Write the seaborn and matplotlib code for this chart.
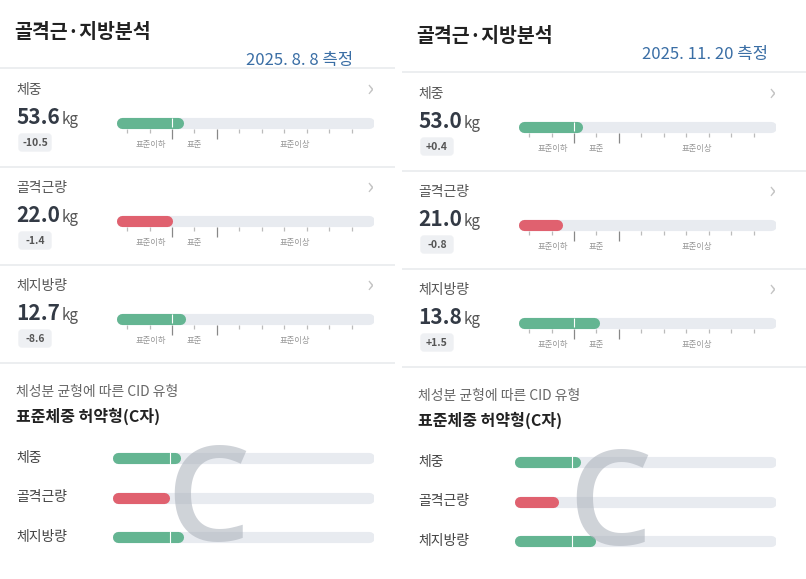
import matplotlib
matplotlib.use("Agg")
import matplotlib.pyplot as plt
import seaborn as sns

sns.set_theme(style="white")
plt.rcParams['font.family'] = ['Noto Sans CJK KR', 'DejaVu Sans']

# ---- data ----
titles = ["골격근·지방분석", "골격근·지방분석"]
dates = ["2025. 8. 8 측정", "2025. 11. 20 측정"]
metrics = ["체중", "골격근량", "체지방량"]
values = [[53.6, 22.0, 12.7], [53.0, 21.0, 13.8]]
changes = [["-10.5", "-1.4", "-8.6"], ["+0.4", "-0.8", "+1.5"]]
# bar position on track (% of track)
bar_pct = [[25.7, 21.4, 26.8], [24.6, 16.8, 31.1]]
bar_colors = ["#64b592", "#e0616f", "#64b592"]
std_lo, std_hi = 21.4, 38.9
tick_pct = [3.9 + 8.75 * i for i in range(11)]
range_labels = ["표준이하", "표준", "표준이상"]
range_label_pct = [13, 30, 69]
cid_sub = "체성분 균형에 따른 CID 유형"
cid_type = "표준체중 허약형(C자)"
cid_letter = "C"
cid_pct = [[26.0, 21.5, 27.0], [25.0, 16.5, 31.0]]
cid_div = [22.0, 21.8]

W, H = 806, 579
fig = plt.figure(figsize=(W / 100, H / 100), dpi=100)
fig.patch.set_facecolor("white")


def box(x0, y0, w, h):
    return [x0 / W, 1 - (y0 + h) / H, w / W, h / H]


TRACK = "#e8ebf0"
DARK = "#333a45"
CAP = 2.1

for p in range(2):
    ox = 0 if p == 0 else 402
    oy = 0 if p == 0 else 4
    pw = 395 if p == 0 else 404
    base = fig.add_axes(box(ox, 0, pw, H))
    base.set_xlim(0, pw)
    base.set_ylim(H, 0)
    base.axis("off")
    base.text(14, 33 + oy, titles[p], fontsize=14, fontweight="bold", color="#222", va="center")
    base.text(353 if p == 0 else 366, 60 + oy - (0 if p == 0 else 10), dates[p], fontsize=12,
              color="#3a6ea5", ha="right", va="center")
    for ly in [68, 167, 265, 363]:
        base.plot([0, pw], [ly + oy, ly + oy], color="#e9ebee", lw=1.2)
    tx0 = 117
    tw = 257
    for i, m in enumerate(metrics):
        sy = 68 + oy + 98 * i
        base.text(16, sy + 22, m, fontsize=10, color="#555", va="center")
        base.text(367, sy + 21, "›", fontsize=17, color="#c4c4c4", va="center", fontweight="light")
        base.text(16, sy + 50, f"{values[p][i]:.1f}", fontsize=15, fontweight="bold",
                  color=DARK, va="center")
        base.text(62, sy + 52, "kg", fontsize=11, color="#555", va="center")
        base.add_patch(matplotlib.patches.FancyBboxPatch((19, sy + 66), 32, 17,
                       boxstyle="round,pad=0,rounding_size=3", color="#eef0f3"))
        base.text(35, sy + 74.5, changes[p][i], fontsize=7.5, fontweight="bold",
                  color="#555", ha="center", va="center")
        ax = fig.add_axes(box(ox + tx0, sy + 46, tw, 34))
        ax.set_xlim(0, 100)
        ax.set_ylim(1.4, -0.5)
        ax.axis("off")
        ax.hlines(0, CAP, 100 - CAP, color=TRACK, lw=8, capstyle="round")
        ax.hlines(0, CAP, bar_pct[p][i] - CAP, color=bar_colors[i], lw=8, capstyle="round")
        if bar_pct[p][i] > std_lo:
            ax.vlines(std_lo, -0.25, 0.25, color="white", lw=0.8)
        for tp in tick_pct:
            long = tp in (tick_pct[2], tick_pct[4])
            ax.vlines(tp, 0.35, 0.9 if long else 0.55, color="#888" if long else "#bbb", lw=0.9)
        for lp, lt in zip(range_label_pct, range_labels):
            ax.text(lp, 1.2, lt, fontsize=6, color="#999", ha="center", va="center")
    # CID
    base.text(16, 392 + oy, cid_sub, fontsize=10, color="#666", va="center")
    base.text(16, 416 + oy, cid_type, fontsize=11.5, fontweight="bold", color="#222", va="center")
    for i, m in enumerate(metrics):
        cy = 458 + oy + 39.5 * i
        base.text(16, cy, m, fontsize=10, color="#444", va="center")
        ax = fig.add_axes(box(ox + 113, cy - 8, 261, 16))
        ax.set_xlim(0, 100)
        ax.set_ylim(-1, 1)
        ax.axis("off")
        ax.hlines(0, CAP, 100 - CAP, color=TRACK, lw=8, capstyle="round")
        ax.hlines(0, CAP, cid_pct[p][i] - CAP, color=bar_colors[i], lw=8, capstyle="round")
        if cid_pct[p][i] > cid_div[p]:
            ax.vlines(cid_div[p], -0.7, 0.7, color="white", lw=0.8)
    cax = fig.add_axes(box(ox, 0, pw, H))
    cax.set_xlim(0, pw)
    cax.set_ylim(H, 0)
    cax.axis("off")
    cax.text(208, 507 + oy, cid_letter, fontsize=95, color="#a9afb9", alpha=0.55,
             ha="center", va="center", fontweight="semibold", family=["Open Sans", "DejaVu Sans"])

fig.savefig("out.png", dpi=100)
